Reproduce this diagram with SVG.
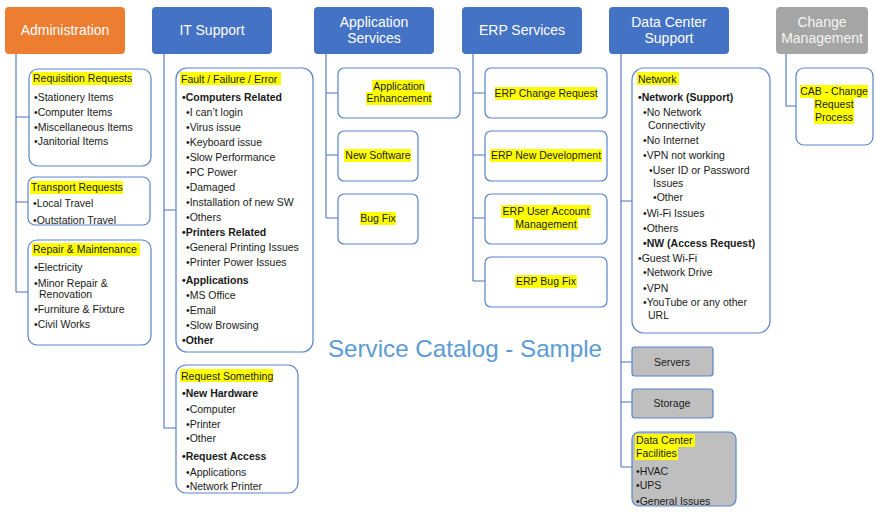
<svg xmlns="http://www.w3.org/2000/svg" width="875" height="512" viewBox="0 0 875 512">
<style>
.hdr{stroke:none}
.blue{fill:#4472C4}
.orange{fill:#ED7D31}
.gray{fill:#A5A5A5}
.ht{font-family:"Liberation Sans",Arial,sans-serif;font-size:14px;fill:#ffffff;text-anchor:middle}
.box{fill:#ffffff;stroke:#5a84cc;stroke-width:1.2}
.gbox{fill:#BFBFBF;stroke:#5a84cc;stroke-width:1.2}
.t{font-family:"Liberation Sans",Arial,sans-serif;font-size:10.5px;fill:#1a1a1a}
.b{font-weight:bold}
.c{text-anchor:middle}
.hl{fill:#FFFF00}
.conn{fill:none;stroke:#4a72c0;stroke-width:1.1}
.title{font-family:"Liberation Sans",Arial,sans-serif;font-size:24px;fill:#5B9BD5}
</style>

<g id="connectors">
<path class="conn" d="M16 54V292M16 117H29M16 202H28M16 292H28"/>
<path class="conn" d="M164 54V428M164 210H176M164 428H176"/>
<path class="conn" d="M326 54V218M326 93H338M326 155H338M326 218H338"/>
<path class="conn" d="M473 54V281M473 93H485M473 155H485M473 218H485M473 281H485"/>
<path class="conn" d="M621 54V467M621 201H632M621 362H632M621 402H632M621 467H632"/>
<path class="conn" d="M786 54V106H796"/>
</g>

<!-- Headers -->
<g id="administration">
<rect class="hdr orange" x="5" y="7" width="120" height="47" rx="4"/>
<text class="ht" x="65" y="35">Administration</text>
</g>
<g id="it-support">
<rect class="hdr blue" x="152" y="7" width="120" height="47" rx="4"/>
<text class="ht" x="212" y="35">IT Support</text>
</g>
<g id="application-services">
<rect class="hdr blue" x="314" y="7" width="120" height="47" rx="4"/>
<text class="ht" x="374" y="27">Application</text>
<text class="ht" x="374" y="43">Services</text>
</g>
<g id="erp-services">
<rect class="hdr blue" x="462" y="7" width="120" height="47" rx="4"/>
<text class="ht" x="522" y="35">ERP Services</text>
</g>
<g id="data-center-support">
<rect class="hdr blue" x="609" y="7" width="120" height="47" rx="4"/>
<text class="ht" x="669" y="27">Data Center</text>
<text class="ht" x="669" y="43">Support</text>
</g>
<g id="change-management">
<rect class="hdr gray" x="776" y="7" width="92" height="47" rx="4"/>
<text class="ht" x="822" y="27" style="fill:#f4f4f4">Change</text>
<text class="ht" x="822" y="43" style="fill:#f4f4f4">Management</text>
</g>

<!-- Administration children -->
<g id="requisition-requests">
<rect class="box" x="29" y="69" width="122" height="97" rx="9"/>
<rect class="hl" x="32" y="72" width="100" height="13"/>
<text class="t" x="33" y="82">Requisition Requests</text>
<text class="t" x="34" y="101">•Stationery Items</text>
<text class="t" x="34" y="116">•Computer Items</text>
<text class="t" x="34" y="131">•Miscellaneous Items</text>
<text class="t" x="34" y="145">•Janitorial Items</text>
</g>
<g id="transport-requests">
<rect class="box" x="28" y="177" width="122" height="48" rx="7"/>
<rect class="hl" x="30" y="181" width="93" height="13"/>
<text class="t" x="31" y="191">Transport Requests</text>
<text class="t" x="33" y="207">•Local Travel</text>
<text class="t" x="33" y="224">•Outstation Travel</text>
</g>
<g id="repair-maintenance">
<rect class="box" x="28" y="240" width="123" height="105" rx="9"/>
<rect class="hl" x="32" y="243" width="108" height="13"/>
<text class="t" x="33" y="253">Repair &amp; Maintenance</text>
<text class="t" x="34" y="271">•Electricity</text>
<text class="t" x="34" y="287">•Minor Repair &amp;</text>
<text class="t" x="39" y="298">Renovation</text>
<text class="t" x="34" y="313">•Furniture &amp; Fixture</text>
<text class="t" x="34" y="328">•Civil Works</text>
</g>

<!-- IT Support children -->
<g id="fault-failure-error">
<rect class="box" x="176" y="68" width="137" height="284" rx="11"/>
<rect class="hl" x="180" y="72" width="101" height="13"/>
<text class="t" x="181" y="83">Fault / Failure / Error</text>
<text class="t b" x="182" y="101">•Computers Related</text>
<text class="t" x="186" y="116">•I can’t login</text>
<text class="t" x="186" y="131">•Virus issue</text>
<text class="t" x="186" y="146">•Keyboard issue</text>
<text class="t" x="186" y="161">•Slow Performance</text>
<text class="t" x="186" y="176">•PC Power</text>
<text class="t" x="186" y="191">•Damaged</text>
<text class="t" x="186" y="206">•Installation of new SW</text>
<text class="t" x="186" y="221">•Others</text>
<text class="t b" x="182" y="236">•Printers Related</text>
<text class="t" x="186" y="251">•General Printing Issues</text>
<text class="t" x="186" y="266">•Printer Power Issues</text>
<text class="t b" x="182" y="284">•Applications</text>
<text class="t" x="186" y="299">•MS Office</text>
<text class="t" x="186" y="314">•Email</text>
<text class="t" x="186" y="329">•Slow Browsing</text>
<text class="t b" x="182" y="344">•Other</text>
</g>
<g id="request-something">
<rect class="box" x="176" y="365" width="122" height="128" rx="10"/>
<rect class="hl" x="180" y="369" width="93" height="13"/>
<text class="t" x="181" y="380">Request Something</text>
<text class="t b" x="182" y="397">•New Hardware</text>
<text class="t" x="186" y="413">•Computer</text>
<text class="t" x="186" y="428">•Printer</text>
<text class="t" x="186" y="442">•Other</text>
<text class="t b" x="182" y="460">•Request Access</text>
<text class="t" x="186" y="476">•Applications</text>
<text class="t" x="186" y="490">•Network Printer</text>
</g>

<!-- Application Services children -->
<g id="application-enhancement">
<rect class="box" x="338" y="68" width="122" height="50" rx="6"/>
<rect class="hl" x="372" y="80" width="53" height="13"/>
<rect class="hl" x="366" y="92" width="66" height="13"/>
<text class="t c" x="399" y="90">Application</text>
<text class="t c" x="399" y="102">Enhancement</text>
</g>
<g id="new-software">
<rect class="box" x="338" y="131" width="80" height="50" rx="6"/>
<rect class="hl" x="344" y="149" width="67" height="13"/>
<text class="t c" x="378" y="159">New Software</text>
</g>
<g id="bug-fix">
<rect class="box" x="338" y="194" width="80" height="50" rx="6"/>
<rect class="hl" x="360" y="212" width="36" height="13"/>
<text class="t c" x="378" y="222">Bug Fix</text>
</g>

<!-- ERP children -->
<g id="erp-change-request">
<rect class="box" x="485" y="68" width="122" height="50" rx="6"/>
<rect class="hl" x="495" y="87" width="102" height="13"/>
<text class="t c" x="546" y="97">ERP Change Request</text>
</g>
<g id="erp-new-development">
<rect class="box" x="485" y="131" width="122" height="50" rx="6"/>
<rect class="hl" x="490" y="149" width="112" height="13"/>
<text class="t c" x="546" y="159">ERP New Development</text>
</g>
<g id="erp-user-account">
<rect class="box" x="485" y="194" width="122" height="50" rx="6"/>
<rect class="hl" x="501" y="205" width="90" height="13"/>
<rect class="hl" x="514" y="217" width="64" height="13"/>
<text class="t c" x="546" y="215">ERP User Account</text>
<text class="t c" x="546" y="228">Management</text>
</g>
<g id="erp-bug-fix">
<rect class="box" x="485" y="257" width="122" height="50" rx="6"/>
<rect class="hl" x="515" y="275" width="62" height="13"/>
<text class="t c" x="546" y="285">ERP Bug Fix</text>
</g>

<!-- Data Center children -->
<g id="network">
<rect class="box" x="632" y="68" width="138" height="265" rx="12"/>
<rect class="hl" x="637" y="72" width="42" height="13"/>
<text class="t" x="638" y="83">Network</text>
<text class="t b" x="638" y="101">•Network (Support)</text>
<text class="t" x="643" y="116">•No Network</text>
<text class="t" x="648" y="129">Connectivity</text>
<text class="t" x="643" y="144">•No Internet</text>
<text class="t" x="643" y="159">•VPN not working</text>
<text class="t" x="649" y="174">•User ID or Password</text>
<text class="t" x="653" y="187">Issues</text>
<text class="t" x="653" y="201">•Other</text>
<text class="t" x="643" y="217">•Wi-Fi Issues</text>
<text class="t" x="643" y="232">•Others</text>
<text class="t b" x="643" y="247">•NW (Access Request)</text>
<text class="t" x="638" y="262">•Guest Wi-Fi</text>
<text class="t" x="643" y="276">•Network Drive</text>
<text class="t" x="643" y="292">•VPN</text>
<text class="t" x="643" y="306">•YouTube or any other</text>
<text class="t" x="648" y="319">URL</text>
</g>
<g id="servers">
<rect class="gbox" x="632" y="347" width="81" height="29" rx="3"/>
<text class="t c" x="672" y="366">Servers</text>
</g>
<g id="storage">
<rect class="gbox" x="632" y="389" width="81" height="29" rx="3"/>
<text class="t c" x="672" y="407">Storage</text>
</g>
<g id="data-center-facilities">
<rect class="gbox" x="632" y="432" width="104" height="74" rx="7"/>
<rect class="hl" x="635" y="434" width="60" height="13"/>
<rect class="hl" x="635" y="447" width="43" height="13"/>
<text class="t" x="636" y="444">Data Center</text>
<text class="t" x="636" y="457">Facilities</text>
<text class="t" x="636" y="475">•HVAC</text>
<text class="t" x="636" y="489">•UPS</text>
<text class="t" x="636" y="505">•General Issues</text>
</g>

<!-- Change Management children -->
<g id="cab-change-request">
<rect class="box" x="796" y="68" width="77" height="77" rx="8"/>
<rect class="hl" x="800" y="85" width="68" height="13"/>
<rect class="hl" x="814" y="98" width="40" height="13"/>
<rect class="hl" x="814" y="111" width="40" height="13"/>
<text class="t c" x="834" y="95">CAB - Change</text>
<text class="t c" x="834" y="108">Request</text>
<text class="t c" x="834" y="121">Process</text>
</g>

<g id="title">
<text class="title" x="328" y="357" textLength="274" lengthAdjust="spacingAndGlyphs">Service Catalog - Sample</text>
</g>
</svg>
